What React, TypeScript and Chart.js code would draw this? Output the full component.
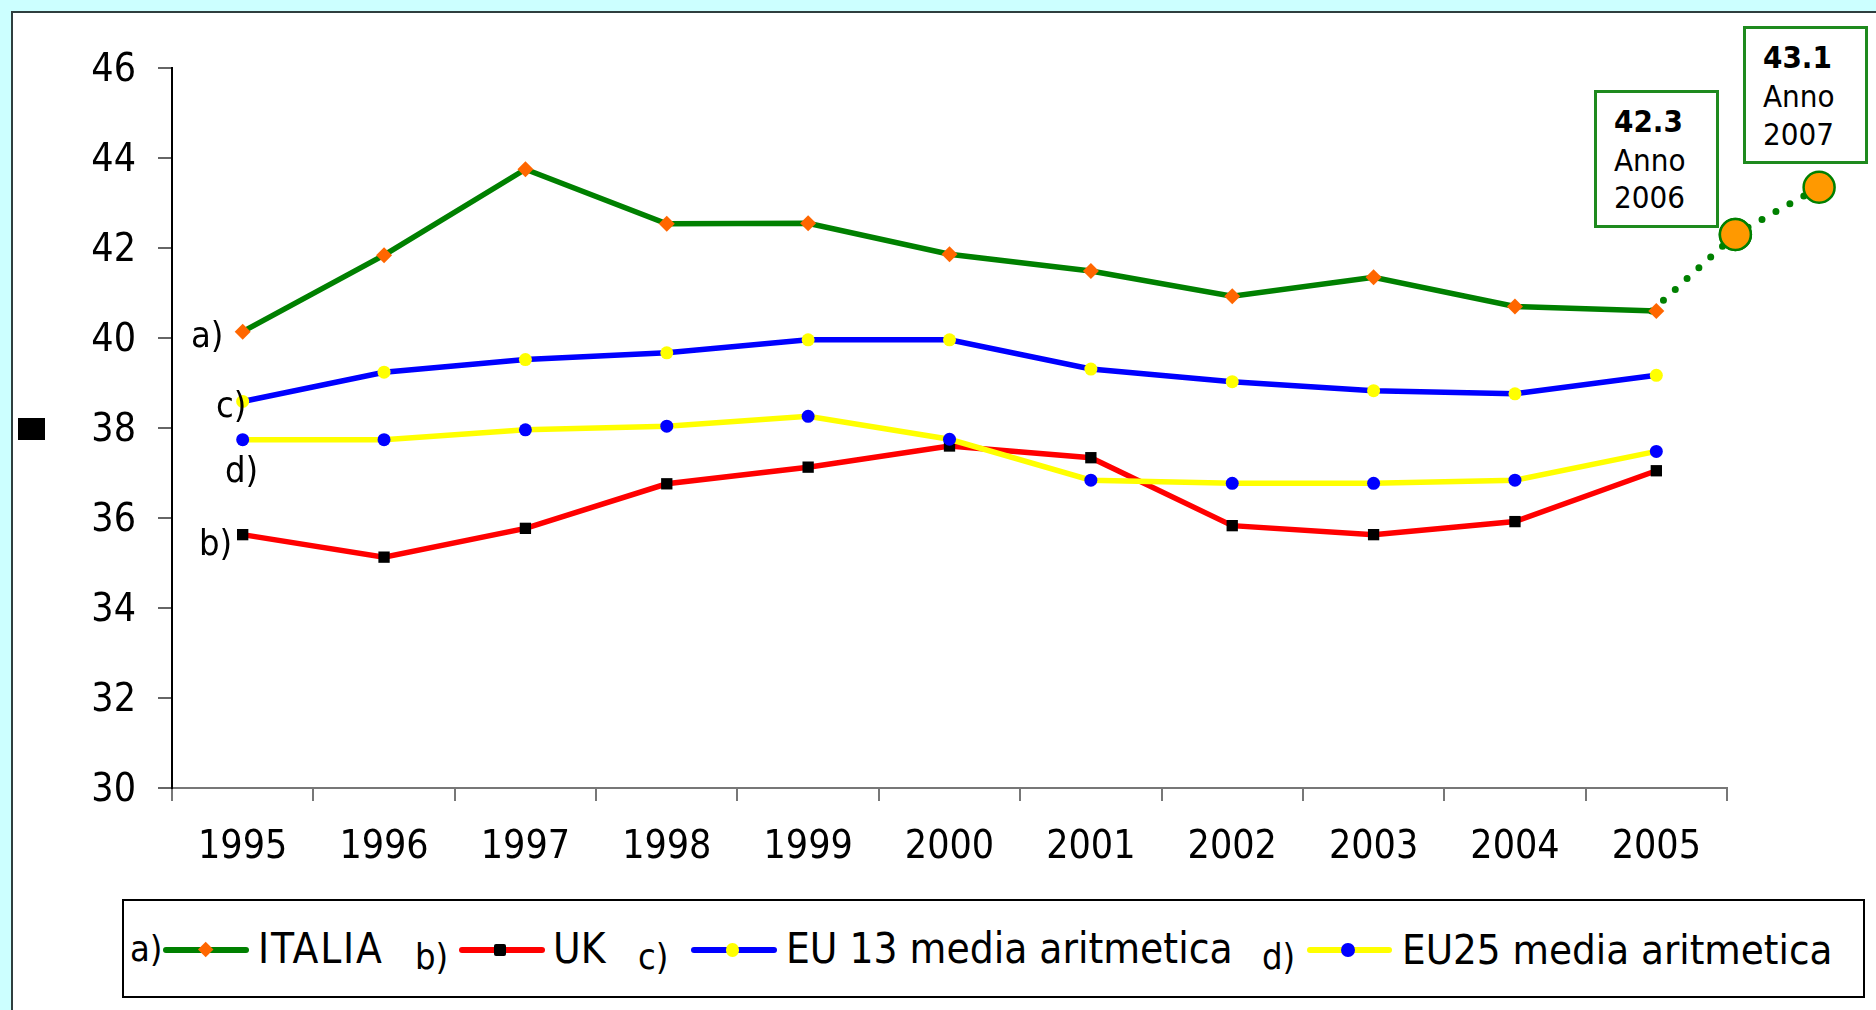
import React, { useEffect, useRef } from "react";
import { Chart, registerables } from "chart.js";

Chart.register(...registerables);

// ---------------- data ----------------
const years = ["1995", "1996", "1997", "1998", "1999", "2000", "2001", "2002", "2003", "2004", "2005"];
const italia = [40.14, 41.84, 43.75, 42.54, 42.55, 41.86, 41.49, 40.93, 41.35, 40.7, 40.6];
const uk = [35.63, 35.13, 35.77, 36.76, 37.13, 37.6, 37.34, 35.83, 35.63, 35.92, 37.05];
const eu13 = [38.59, 39.24, 39.52, 39.67, 39.96, 39.96, 39.31, 39.03, 38.83, 38.76, 39.17];
const eu25 = [37.74, 37.74, 37.96, 38.04, 38.26, 37.75, 36.84, 36.77, 36.77, 36.84, 37.48];
const projYears = [2005, 2006, 2007];
const projValues = [40.6, 42.3, 43.35];
const projLabels = ["42.3", "43.1"];
const projYearLabels = ["2006", "2007"];
const seriesNames = ["ITALIA", "UK", "EU 13 media aritmetica", "EU25 media aritmetica"];
const seriesLetters = ["a)", "b)", "c)", "d)"];
const yMin = 30;
const yMax = 46;
const yStep = 2;

const FONT = "'DejaVu Sans Condensed', 'DejaVu Sans', sans-serif";
const GREEN = "#008000";
const RED = "#FF0000";
const BLUE = "#0000FF";
const YELLOW = "#FFFF00";
const ORANGE = "#FF6600";
const PROJ_FILL = "#FF9900";

const W = 1876;
const H = 1010;

function Txt(props: { x: number; base: number; size: number; bold?: boolean; ls?: number; children: any }) {
  const { x, base, size, bold, ls, children } = props;
  return (
    <div
      style={{
        position: "absolute",
        left: x,
        top: base - 0.846 * size,
        fontSize: size,
        lineHeight: `${size}px`,
        fontFamily: FONT,
        fontWeight: bold ? "bold" : "normal",
        letterSpacing: ls ? `${ls}px` : undefined,
        whiteSpace: "nowrap",
        color: "#000",
      }}
    >
      {children}
    </div>
  );
}

function LegendLine(props: { x1: number; x2: number; y: number; color: string }) {
  const { x1, x2, y, color } = props;
  return (
    <div
      style={{
        position: "absolute",
        left: x1,
        top: y - 3,
        width: x2 - x1,
        height: 6,
        background: color,
        borderRadius: 3,
      }}
    />
  );
}

const outsidePointsPlugin = {
  id: "outsidePoints",
  afterLayout(chart: any) {
    const s = chart.scales.y;
    if (s && !s.__shifted) {
      const orig = s.drawLabels.bind(s);
      s.drawLabels = (area: any) => {
        const ctx = chart.ctx;
        ctx.save();
        ctx.translate(0, 3);
        orig(area);
        ctx.restore();
      };
      s.__shifted = true;
    }
  },
  afterDatasetsDraw(chart: any) {
    const idx = chart.data.datasets.findIndex((d: any) => d.label === "proj");
    if (idx < 0) return;
    const meta = chart.getDatasetMeta(idx);
    const big = { left: -1e5, top: -1e5, right: 1e5, bottom: 1e5 };
    const ca = chart.chartArea;
    meta.data.forEach((el: any, i: number) => {
      if (i > 0 && el.x > ca.right) el.draw(chart.ctx, big);
    });
  },
};

export default function App() {
  const ref = useRef<HTMLCanvasElement | null>(null);

  useEffect(() => {
    if (!ref.current) return;
    const chart = new Chart(ref.current, {
      type: "line",
      data: {
        labels: years,
        datasets: [
          {
            label: seriesNames[0],
            data: italia,
            borderColor: GREEN,
            borderWidth: 5.5,
            pointStyle: "rectRot",
            pointRadius: 8,
            pointBackgroundColor: ORANGE,
            pointBorderColor: ORANGE,
            pointBorderWidth: 0,
            tension: 0,
            order: 4,
          },
          {
            label: seriesNames[1],
            data: uk,
            borderColor: RED,
            borderWidth: 5.5,
            pointStyle: "rect",
            pointRadius: 8,
            pointBackgroundColor: "#000",
            pointBorderColor: "#000",
            pointBorderWidth: 0,
            tension: 0,
            order: 3,
          },
          {
            label: seriesNames[2],
            data: eu13,
            borderColor: BLUE,
            borderWidth: 5.5,
            pointStyle: "circle",
            pointRadius: 6.5,
            pointBackgroundColor: YELLOW,
            pointBorderColor: YELLOW,
            pointBorderWidth: 0,
            tension: 0,
            order: 2,
          },
          {
            label: seriesNames[3],
            data: eu25,
            borderColor: YELLOW,
            borderWidth: 5.5,
            pointStyle: "circle",
            pointRadius: 6.5,
            pointBackgroundColor: BLUE,
            pointBorderColor: BLUE,
            pointBorderWidth: 0,
            tension: 0,
            order: 1,
          },
          {
            label: "proj",
            xAxisID: "x2",
            data: projYears.map((yr, i) => ({ x: yr, y: projValues[i] })),
            borderColor: GREEN,
            borderWidth: 7,
            borderDash: [0, 16],
            borderCapStyle: "round",
            pointStyle: "circle",
            pointRadius: [0, 15.5, 15.5],
            pointBackgroundColor: PROJ_FILL,
            pointBorderColor: GREEN,
            pointBorderWidth: 2.5,
            tension: 0,
            clip: false,
            order: 10,
          } as any,
        ],
      },
      options: {
        responsive: false,
        animation: false,
        events: [],
        layout: { padding: { left: 0, top: 68, right: W - 1727, bottom: 122 } },
        plugins: { legend: { display: false }, tooltip: { enabled: false } },
        scales: {
          x: {
            type: "category",
            offset: true,
            grid: {
              display: true,
              drawOnChartArea: false,
              drawTicks: true,
              tickLength: 13,
              offset: true,
              color: "#777",
              lineWidth: 2,
            },
            border: { display: true, color: "#777", width: 2 },
            ticks: {
              color: "#000",
              font: { family: FONT, size: 39 },
              padding: 23,
              maxRotation: 0,
              autoSkip: false,
            },
            afterFit: (s: any) => {
              s.height = 100;
            },
          },
          x2: {
            type: "linear",
            display: false,
            bounds: "data",
            afterDataLimits: (s: any) => {
              s.min = 1987.33;
              s.max = 2005.9;
            },
          },
          y: {
            min: yMin,
            max: yMax,
            grid: {
              drawOnChartArea: false,
              drawTicks: true,
              tickLength: 14,
              color: "#666",
              lineWidth: 2,
            },
            border: { display: true, color: "#000", width: 2 },
            ticks: {
              stepSize: yStep,
              color: "#000",
              font: { family: FONT, size: 39 },
              padding: 22,
            },
            afterFit: (s: any) => {
              s.width = 172;
            },
          },
        },
      } as any,
      plugins: [outsidePointsPlugin],
    });
    return () => chart.destroy();
  }, []);

  return (
    <div
      style={{
        position: "fixed",
        left: 0,
        top: 0,
        width: W,
        height: H,
        background: "#CCFFFF",
        overflow: "hidden",
      }}
    >
      <div
        style={{
          position: "absolute",
          left: 11,
          top: 11,
          right: 0,
          bottom: 0,
          background: "#FFFFFF",
          borderTop: "2px solid #2F3F3F",
          borderLeft: "2px solid #2F3F3F",
        }}
      />
      <canvas
        ref={ref}
        width={W}
        height={H}
        style={{ position: "absolute", left: 0, top: 0, width: W, height: H }}
      />
      {/* stray black square on the left */}
      <div style={{ position: "absolute", left: 18, top: 418, width: 27, height: 22, background: "#000" }} />

      {/* series letters on the chart */}
      <Txt x={191} base={347} size={36}>{seriesLetters[0]}</Txt>
      <Txt x={216} base={417} size={36}>{seriesLetters[2]}</Txt>
      <Txt x={225} base={482} size={36}>{seriesLetters[3]}</Txt>
      <Txt x={199} base={555} size={36}>{seriesLetters[1]}</Txt>

      {/* projection boxes */}
      <div
        style={{
          position: "absolute",
          left: 1594,
          top: 90,
          width: 125,
          height: 138,
          boxSizing: "border-box",
          border: "3px solid #1E8A1E",
          background: "#fff",
        }}
      />
      <Txt x={1614} base={132} size={31} bold>{projLabels[0]}</Txt>
      <Txt x={1614} base={171} size={31}>Anno</Txt>
      <Txt x={1614} base={208} size={31}>{projYearLabels[0]}</Txt>
      <div
        style={{
          position: "absolute",
          left: 1743,
          top: 26,
          width: 125,
          height: 138,
          boxSizing: "border-box",
          border: "3px solid #1E8A1E",
          background: "#fff",
        }}
      />
      <Txt x={1763} base={68} size={31} bold>{projLabels[1]}</Txt>
      <Txt x={1763} base={107} size={31}>Anno</Txt>
      <Txt x={1763} base={145} size={31}>{projYearLabels[1]}</Txt>

      {/* legend */}
      <div
        style={{
          position: "absolute",
          left: 122,
          top: 899,
          width: 1865 - 122,
          height: 998 - 899,
          boxSizing: "border-box",
          border: "2px solid #000",
          background: "#fff",
        }}
      />
      <Txt x={130} base={961} size={36}>{seriesLetters[0]}</Txt>
      <LegendLine x1={163} x2={249} y={950} color={GREEN} />
      <div
        style={{
          position: "absolute",
          left: 206 - 5.7,
          top: 950 - 5.7,
          width: 11.4,
          height: 11.4,
          background: ORANGE,
          transform: "rotate(45deg)",
        }}
      />
      <Txt x={258} base={964} size={42} ls={1.8}>{seriesNames[0]}</Txt>

      <Txt x={415} base={969} size={36}>{seriesLetters[1]}</Txt>
      <LegendLine x1={459} x2={545} y={950} color={RED} />
      <div
        style={{
          position: "absolute",
          left: 500 - 6.3,
          top: 950 - 6.3,
          width: 12.6,
          height: 12.6,
          background: "#000",
          borderRadius: 2,
        }}
      />
      <Txt x={553} base={964} size={42}>{seriesNames[1]}</Txt>

      <Txt x={638} base={969} size={36}>{seriesLetters[2]}</Txt>
      <LegendLine x1={691} x2={777} y={950} color={BLUE} />
      <div
        style={{
          position: "absolute",
          left: 732.5 - 6.3,
          top: 950 - 6.8,
          width: 12.6,
          height: 13.6,
          background: YELLOW,
          borderRadius: "50%",
        }}
      />
      <Txt x={786} base={964} size={42}>{seriesNames[2]}</Txt>

      <Txt x={1262} base={969} size={36}>{seriesLetters[3]}</Txt>
      <LegendLine x1={1307} x2={1392} y={950} color={YELLOW} />
      <div
        style={{
          position: "absolute",
          left: 1348 - 6.8,
          top: 950 - 7,
          width: 13.6,
          height: 14,
          background: BLUE,
          borderRadius: "50%",
        }}
      />
      <Txt x={1402} base={964} size={41.6}>{seriesNames[3]}</Txt>
    </div>
  );
}
